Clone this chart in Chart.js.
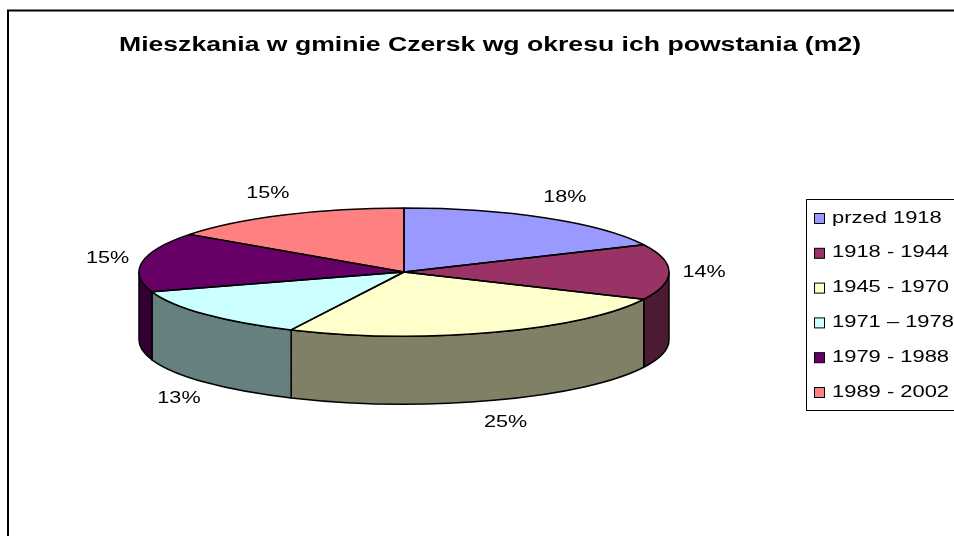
<!DOCTYPE html>
<html>
<head>
<meta charset="utf-8">
<script src="https://cdn.jsdelivr.net/npm/chart.js@4/dist/chart.umd.min.js"></script>
<style>
  html, body { margin: 0; padding: 0; background: #ffffff; }
  #wrap { position: relative; width: 954px; height: 536px; overflow: hidden; }
  canvas { display: block; }
</style>
</head>
<body>
<div id="wrap"><canvas id="c" width="954" height="536"></canvas></div>
<script>
// ---- data ----
const chartTitle = 'Mieszkania w gminie Czersk wg okresu ich powstania (m2)';
const categories = ['przed 1918', '1918 - 1944', '1945 - 1970', '1971 \u2013 1978', '1979 - 1988', '1989 - 2002'];
const shares = [18, 14, 25, 13, 15, 15];
const topColors = ['#9999FF', '#993366', '#FFFFCC', '#CCFFFF', '#660066', '#FF8080'];
const sideColors = ['#4D4D80', '#4D1A33', '#808066', '#668080', '#330033', '#804040'];

// ---- look ----
const TILT = 64 / 265;      // vertical squash of the pie's top face
const DEPTH = 68;           // thickness of the pie
const FONT = '"Liberation Sans", Arial, sans-serif';

function stretchedText(ctx, text, x, y, font, align, stretch) {
  ctx.save();
  ctx.font = font;
  ctx.textBaseline = 'middle';
  ctx.textAlign = align || 'center';
  ctx.translate(x, y);
  ctx.scale(stretch, 1);
  ctx.fillStyle = '#000000';
  ctx.fillText(text, 0, 0);
  ctx.restore();
}

function geometry(chart) {
  const arcs = chart.getDatasetMeta(0).data;
  const p = arcs[0].getProps(['x', 'y', 'outerRadius'], true);
  return { arcs, cx: p.x, cy: p.y, rx: p.outerRadius, ry: p.outerRadius * TILT };
}

const pie3d = {
  id: 'pie3d',
  beforeDatasetsDraw(chart) {
    const ctx = chart.ctx;
    const { arcs, cx, cy, rx, ry } = geometry(chart);
    // side walls (front half only)
    arcs.forEach((arc, i) => {
      const { startAngle, endAngle } = arc.getProps(['startAngle', 'endAngle'], true);
      const a1 = Math.max(startAngle, 0);
      const a2 = Math.min(endAngle, Math.PI);
      if (a2 <= a1) return;
      ctx.save();
      ctx.beginPath();
      ctx.ellipse(cx, cy, rx, ry, 0, a1, a2, false);
      ctx.ellipse(cx, cy + DEPTH, rx, ry, 0, a2, a1, true);
      ctx.closePath();
      ctx.fillStyle = sideColors[i];
      ctx.fill();
      ctx.lineWidth = 1.5;
      ctx.lineJoin = 'round';
      ctx.strokeStyle = '#000000';
      ctx.stroke();
      ctx.restore();
    });
    // squash the top face
    ctx.save();
    ctx.translate(cx, cy);
    ctx.scale(1, TILT);
    ctx.translate(-cx, -cy);
  },
  afterDatasetsDraw(chart) {
    const ctx = chart.ctx;
    ctx.restore();
    const { arcs, cx, cy, rx, ry } = geometry(chart);
    const total = shares.reduce((s, v) => s + v, 0);
    arcs.forEach((arc, i) => {
      const { startAngle, endAngle } = arc.getProps(['startAngle', 'endAngle'], true);
      ctx.save();
      ctx.beginPath();
      ctx.moveTo(cx, cy);
      ctx.ellipse(cx, cy, rx, ry, 0, startAngle, endAngle, false);
      ctx.closePath();
      ctx.lineWidth = 1.5;
      ctx.lineJoin = 'round';
      ctx.strokeStyle = '#000000';
      ctx.stroke();
      ctx.restore();
      // percentage label
      const mid = (startAngle + endAngle) / 2;
      const c = Math.cos(mid), s = Math.sin(mid);
      const lx = cx + (rx + 35) * c;
      const ly = cy + (ry + 24) * s + (s > 0.1 ? DEPTH : 0);
      const pct = Math.round(shares[i] / total * 100) + '%';
      stretchedText(ctx, pct, lx, ly, '17px ' + FONT, 'center', 1.27);
    });
  },
  afterDraw(chart) {
    const ctx = chart.ctx;
    // outer frame
    ctx.save();
    ctx.strokeStyle = '#000000';
    ctx.lineWidth = 2;
    ctx.beginPath();
    ctx.moveTo(8, 540);
    ctx.lineTo(8, 10.5);
    ctx.lineTo(960, 10.5);
    ctx.stroke();
    ctx.restore();
    // title
    stretchedText(ctx, chartTitle, 490, 45, 'bold 20px ' + FONT, 'center', 1.33);
    // legend
    ctx.save();
    ctx.strokeStyle = '#000000';
    ctx.lineWidth = 1;
    ctx.strokeRect(806.5, 199.5, 220, 211);
    ctx.restore();
    chart.data.labels.forEach((lab, i) => {
      const y = 218 + i * 34.8;
      ctx.save();
      ctx.fillStyle = topColors[i];
      ctx.fillRect(814.5, y - 4.5, 10, 10);
      ctx.strokeStyle = '#000000';
      ctx.lineWidth = 1;
      ctx.strokeRect(814.5, y - 4.5, 10, 10);
      ctx.restore();
      stretchedText(ctx, lab, 832, y, '17px ' + FONT, 'left', 1.29);
    });
  }
};

new Chart(document.getElementById('c'), {
  type: 'pie',
  data: {
    labels: categories,
    datasets: [{
      data: shares,
      backgroundColor: topColors,
      borderWidth: 0,
      radius: 265,
      clip: false
    }]
  },
  options: {
    responsive: false,
    devicePixelRatio: 1,
    animation: false,
    events: [],
    layout: { padding: { left: 0, right: 146, top: 8, bottom: 0 } },
    plugins: {
      legend: { display: false },
      title: { display: false },
      tooltip: { enabled: false }
    }
  },
  plugins: [pie3d]
});
</script>
</body>
</html>
